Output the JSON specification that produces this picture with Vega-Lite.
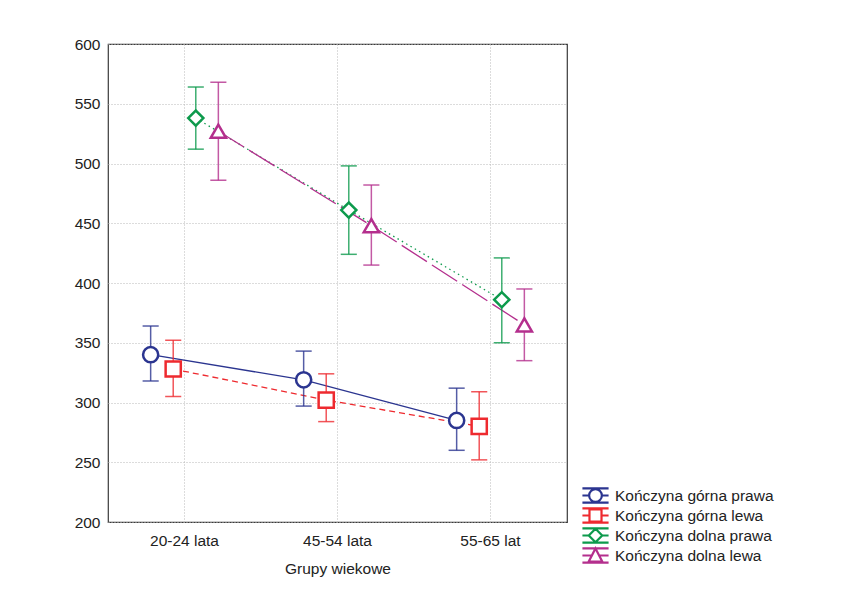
{
  "$schema": "https://vega.github.io/schema/vega-lite/v6.json",
  "width": 459,
  "height": 478,
  "autosize": {"type": "none"},
  "padding": {"left": 108, "top": 44, "right": 297, "bottom": 70},
  "background": "white",
  "config": {
    "font": "Liberation Sans",
    "view": {"stroke": "#3a3a3a", "strokeWidth": 1.2},
    "axisY": {"grid": true, "gridDash": [1, 2], "gridColor": "#b8b8b8", "ticks": false, "domain": false, "labelPadding": 8, "labelFontSize": 15.5, "labelColor": "#222222", "values": [200, 250, 300, 350, 400, 450, 500, 550, 600]},
    "axisX": {"grid": true, "gridDash": [1, 2], "gridColor": "#b8b8b8", "ticks": false, "domain": false, "labelPadding": 11, "labelFontSize": 15.5, "labelColor": "#222222", "labelAngle": 0, "labelDx": 3, "titleFontSize": 15.5, "titleFontWeight": "normal", "titleColor": "#222222", "titlePadding": 13, "bandPosition": 0.5},
    "legend": {"labelFontSize": 15.5, "labelColor": "#222222"}
  },
  "data": {
    "values": [
      {"series": "Kończyna górna prawa", "group": "20-24 lata", "mean": 340, "lo": 318, "hi": 364},
      {"series": "Kończyna górna prawa", "group": "45-54 lata", "mean": 319, "lo": 297, "hi": 343},
      {"series": "Kończyna górna prawa", "group": "55-65 lat", "mean": 285, "lo": 260, "hi": 312},
      {"series": "Kończyna górna lewa", "group": "20-24 lata", "mean": 328, "lo": 305, "hi": 352},
      {"series": "Kończyna górna lewa", "group": "45-54 lata", "mean": 302, "lo": 284, "hi": 324},
      {"series": "Kończyna górna lewa", "group": "55-65 lat", "mean": 280, "lo": 252, "hi": 309},
      {"series": "Kończyna dolna prawa", "group": "20-24 lata", "mean": 538, "lo": 512, "hi": 564},
      {"series": "Kończyna dolna prawa", "group": "45-54 lata", "mean": 461, "lo": 424, "hi": 498},
      {"series": "Kończyna dolna prawa", "group": "55-65 lat", "mean": 386, "lo": 350, "hi": 421},
      {"series": "Kończyna dolna lewa", "group": "20-24 lata", "mean": 527, "lo": 486, "hi": 568},
      {"series": "Kończyna dolna lewa", "group": "45-54 lata", "mean": 448, "lo": 415, "hi": 482},
      {"series": "Kończyna dolna lewa", "group": "55-65 lat", "mean": 365, "lo": 335, "hi": 395}
    ]
  },
  "encoding": {
    "x": {"field": "group", "type": "nominal", "sort": ["20-24 lata", "45-54 lata", "55-65 lat"], "title": "Grupy wiekowe", "scale": {"type": "band", "paddingInner": 0.41, "paddingOuter": 0.205}},
    "xOffset": {"field": "series", "type": "nominal", "scale": {"domain": ["Kończyna górna prawa", "Kończyna górna lewa", "Kończyna dolna prawa", "Kończyna dolna lewa"]}},
    "y": {"field": "mean", "type": "quantitative", "title": null, "scale": {"domain": [200, 600], "nice": false, "zero": false}},
    "color": {
      "field": "series", "type": "nominal",
      "scale": {"domain": ["Kończyna górna prawa", "Kończyna górna lewa", "Kończyna dolna prawa", "Kończyna dolna lewa"], "range": ["#2b3590", "#ee2a2f", "#0d9a4c", "#b42f8d"]},
      "legend": {
        "title": null, "orient": "none", "legendX": 479, "legendY": 443, "padding": 0,
        "symbolSize": 200, "symbolStrokeWidth": 2.2, "symbolFillColor": "white", "rowPadding": -3, "labelOffset": 11,
        "encode": {"symbols": {"update": {
          "strokeWidth": {"value": 2.2},
          "shape": {"signal": "['M-1.85,-1L1.85,-1M-1.85,1L1.85,1M-1.85,0L-0.9,0M0.9,0L1.85,0M-0.9,0A0.9,0.9,0,1,1,0.9,0A0.9,0.9,0,1,1,-0.9,0Z','M-1.85,-1L1.85,-1M-1.85,1L1.85,1M-1.85,0L-0.85,0M0.85,0L1.85,0M-0.85,-0.85L0.85,-0.85L0.85,0.85L-0.85,0.85Z','M-1.85,-1L1.85,-1M-1.85,1L1.85,1M-1.85,0L-0.95,0M0.95,0L1.85,0M0,-0.95L0.95,0L0,0.95L-0.95,0Z','M-1.85,-1L1.85,-1M-1.85,1L1.85,1M-1.85,0L-0.6,0M0.6,0L1.85,0M0,-1L0.95,0.85L-0.95,0.85Z'][datum.index]"}
        }}}
      }
    }
  },
  "layer": [
    {"transform": [{"filter": "datum.series === 'Kończyna górna prawa'"}], "mark": {"type": "line", "strokeWidth": 1.3}},
    {"transform": [{"filter": "datum.series === 'Kończyna górna lewa'"}], "mark": {"type": "line", "strokeWidth": 1.3, "strokeDash": [6, 4]}},
    {"transform": [{"filter": "datum.series === 'Kończyna dolna prawa'"}], "mark": {"type": "line", "strokeWidth": 1.3, "strokeDash": [1.5, 3.5]}},
    {"transform": [{"filter": "datum.series === 'Kończyna dolna lewa'"}], "mark": {"type": "line", "strokeWidth": 1.3, "strokeDash": [30, 6]}},
    {
      "mark": {"type": "rule", "strokeWidth": 1.5, "opacity": 0.8},
      "encoding": {"y": {"field": "lo", "type": "quantitative"}, "y2": {"field": "hi"}}
    },
    {
      "mark": {"type": "tick", "filled": false, "thickness": 0.4, "strokeWidth": 1.1, "opacity": 0.8},
      "encoding": {"y": {"field": "lo", "type": "quantitative"}, "size": {"value": 15}}
    },
    {
      "mark": {"type": "tick", "filled": false, "thickness": 0.4, "strokeWidth": 1.1, "opacity": 0.8},
      "encoding": {"y": {"field": "hi", "type": "quantitative"}, "size": {"value": 15}}
    },
    {"transform": [{"filter": "datum.series === 'Kończyna górna prawa'"}], "mark": {"type": "point", "shape": "circle", "filled": false, "fill": "white", "strokeWidth": 2.5, "size": 230, "opacity": 1}},
    {"transform": [{"filter": "datum.series === 'Kończyna górna lewa'"}], "mark": {"type": "point", "shape": "square", "filled": false, "fill": "white", "strokeWidth": 2.5, "size": 230, "opacity": 1}},
    {"transform": [{"filter": "datum.series === 'Kończyna dolna prawa'"}], "mark": {"type": "point", "shape": "diamond", "filled": false, "fill": "white", "strokeWidth": 2.5, "size": 230, "opacity": 1}},
    {"transform": [{"filter": "datum.series === 'Kończyna dolna lewa'"}], "mark": {"type": "point", "shape": "triangle-up", "filled": false, "fill": "white", "strokeWidth": 2.5, "size": 230, "opacity": 1}}
  ]
}
